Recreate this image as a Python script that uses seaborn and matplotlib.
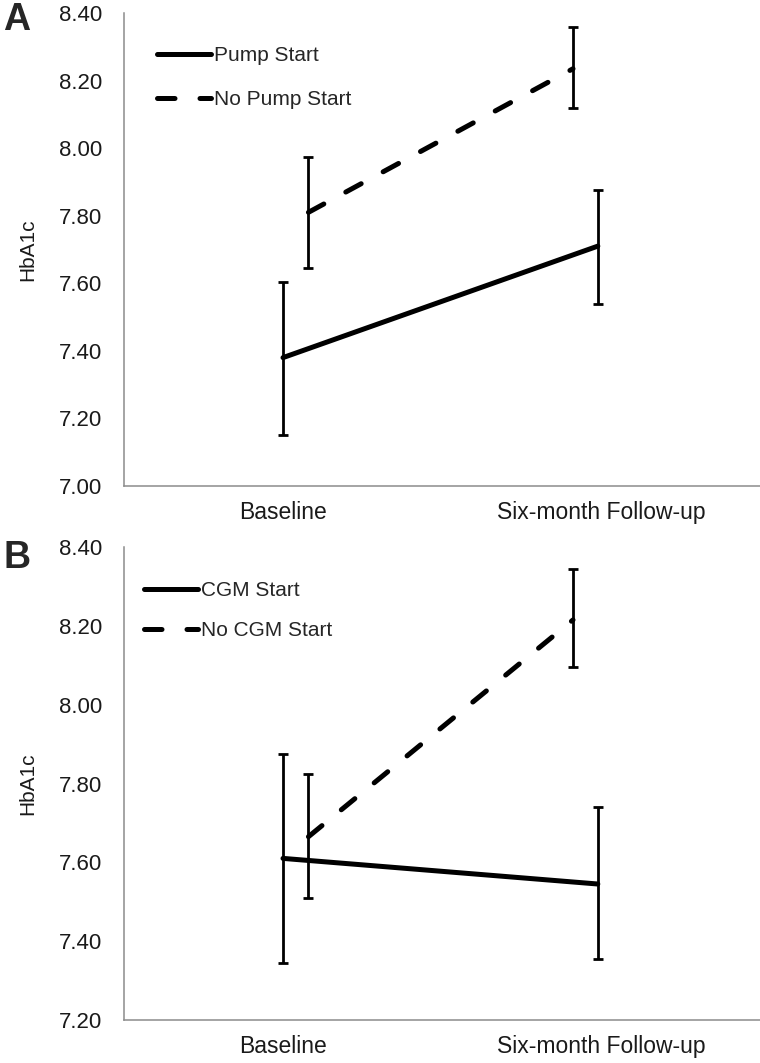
import numpy as np
import pandas as pd
import matplotlib
matplotlib.use("Agg")
import matplotlib.pyplot as plt
from matplotlib.lines import Line2D
import seaborn as sns

sns.set_theme(style="white")
plt.rcParams['font.family'] = ['Liberation Sans', 'DejaVu Sans']

# ---------------- data ----------------
timepoints = ["Baseline", "Six-month Follow-up"]

# Panel A
pump_labels = ["Pump Start", "No Pump Start"]
pump_mean = [7.38, 7.71]
pump_lo = [7.15, 7.54]
pump_hi = [7.605, 7.875]
nopump_mean = [7.81, 8.235]
nopump_lo = [7.645, 8.12]
nopump_hi = [7.975, 8.36]

# Panel B
cgm_labels = ["CGM Start", "No CGM Start"]
cgm_mean = [7.61, 7.545]
cgm_lo = [7.345, 7.355]
cgm_hi = [7.875, 7.74]
nocgm_mean = [7.665, 8.215]
nocgm_lo = [7.51, 8.095]
nocgm_hi = [7.825, 8.345]

yticks_A = [7.00, 7.20, 7.40, 7.60, 7.80, 8.00, 8.20, 8.40]
yticks_B = [7.20, 7.40, 7.60, 7.80, 8.00, 8.20, 8.40]

# ---------------- layout / style constants ----------------
# horizontal offsets of each series at each timepoint (category units)
OFFS_SOLID = [0.0, -0.01]
OFFS_DASH = [0.08, -0.088]
LW = 3.6
DASH = (3.5, 5.0)

W, H = 760, 1063
fig = plt.figure(figsize=(W / 100, H / 100), dpi=100)

def px_axes(left, top, right, bottom):
    return fig.add_axes([left / W, 1 - bottom / H, (right - left) / W, (bottom - top) / H])

axA = px_axes(124, 13, 760, 486)
axB = px_axes(124, 547, 760, 1020)


def draw_panel(ax, labels, m1, lo1, hi1, m2, lo2, hi2, yticks, leg_xy, leg_spacing):
    idx = np.arange(len(timepoints))
    df = pd.DataFrame({
        "x": np.concatenate([idx + np.array(OFFS_SOLID), idx + np.array(OFFS_DASH)]),
        "HbA1c": m1 + m2,
        "lo": lo1 + lo2,
        "hi": hi1 + hi2,
        "group": [labels[0]] * len(m1) + [labels[1]] * len(m2),
    })
    sns.lineplot(data=df, x="x", y="HbA1c", style="group",
                 dashes={labels[0]: "", labels[1]: DASH},
                 color="black", linewidth=LW, legend=False, ax=ax,
                 sort=False, estimator=None)
    for line in ax.get_lines():
        line.set_dash_capstyle("round")
        line.set_solid_capstyle("round")
    ax.errorbar(df["x"], df["HbA1c"],
                yerr=[df["HbA1c"] - df["lo"], df["hi"] - df["HbA1c"]],
                fmt="none", ecolor="black", elinewidth=2.0, capsize=3.3, capthick=2.0,
                zorder=3)

    ax.set_xlim(-0.5, 1.5)
    ax.set_ylim(yticks[0], yticks[-1])
    ax.set_xticks(idx)
    ax.set_xticklabels(timepoints, fontsize=16.5, color="#1a1a1a")
    ax.set_yticks(yticks)
    ax.set_yticklabels([f"{v:.2f}" for v in yticks], fontsize=16, color="#1a1a1a")
    ax.tick_params(axis="both", length=0)
    ax.tick_params(axis="y", pad=16)
    ax.tick_params(axis="x", pad=11)
    ax.set_xlabel("")
    ax.set_ylabel("HbA1c", fontsize=15, color="#1a1a1a")
    ax.yaxis.set_label_coords(-0.137, 0.5)
    for s in ["top", "right"]:
        ax.spines[s].set_visible(False)
    for s in ["left", "bottom"]:
        ax.spines[s].set_color("#8c8c8c")
        ax.spines[s].set_linewidth(1.1)

    handles = [
        Line2D([], [], color="black", lw=LW, solid_capstyle="round"),
        Line2D([], [], color="black", lw=LW, linestyle=(0, DASH), dash_capstyle="round"),
    ]
    ax.legend(handles, labels, loc="upper left", bbox_to_anchor=leg_xy,
              frameon=False, fontsize=15, handlelength=2.6, handletextpad=0.15,
              labelspacing=leg_spacing, borderpad=0, borderaxespad=0)


draw_panel(axA, pump_labels, pump_mean, pump_lo, pump_hi,
           nopump_mean, nopump_lo, nopump_hi, yticks_A, (0.052, 0.930), 1.2)
draw_panel(axB, cgm_labels, cgm_mean, cgm_lo, cgm_hi,
           nocgm_mean, nocgm_lo, nocgm_hi, yticks_B, (0.031, 0.928), 1.0)

fig.text(3 / W, 1 - 30 / H, "A", fontsize=27, fontweight="bold", ha="left", va="baseline")
fig.text(4 / W, 1 - 568 / H, "B", fontsize=27, fontweight="bold", ha="left", va="baseline")

fig.savefig("out.png", dpi=100, facecolor="white")
